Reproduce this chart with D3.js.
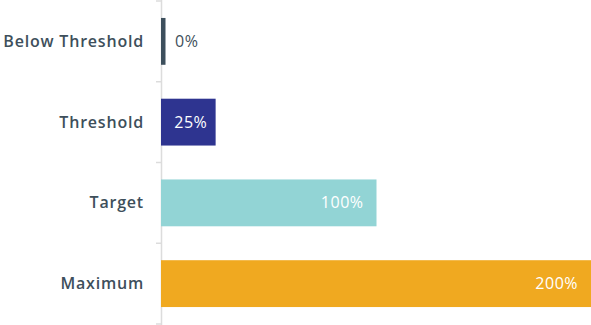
<!DOCTYPE html>
<html>
<head>
<meta charset="utf-8">
<script src="https://cdn.jsdelivr.net/npm/d3@7"></script>
<style>
  html, body { margin: 0; padding: 0; background: #fff; }
  svg { display: block; }
  .cat { font-family: "Open Sans", sans-serif; font-weight: 600; font-size: 16px; letter-spacing: 0.8px; fill: #3e4f5b; }
  .val { font-family: "Open Sans", sans-serif; font-weight: 500; font-size: 16px; letter-spacing: 0.5px; }
</style>
</head>
<body>
<script>
(function () {

    //chart data
    var categories = ["Below Threshold", "Threshold", "Target", "Maximum"];
    var values = [0, 25, 100, 200];
    var valueLabels = ["0%", "25%", "100%", "200%"];
    var colors = ["#3d4f5c", "#2e3490", "#92d4d5", "#f0a920"];

    var width = 591,
        height = 325;

    var svg = d3.select("body")
        .append("svg")
        .attr("width", width)
        .attr("height", height);

    var axisX = 162;

    var x = d3.scaleLinear()
        .domain([0, 200])
        .range([axisX, width]);

    var y = d3.scaleBand()
        .domain(categories)
        .range([1, 324])
        .paddingInner(0.42)
        .paddingOuter(0.21);

    //axis line
    svg.append("line")
        .attr("x1", axisX - 0.5).attr("x2", axisX - 0.5)
        .attr("y1", 0).attr("y2", height)
        .attr("stroke", "#dcdcdc")
        .attr("stroke-width", 1.5);

    //ticks at band boundaries
    var bounds = d3.range(categories.length + 1).map(function (i) {
        return y.range()[0] + i * y.step();
    });
    svg.selectAll(".tick")
        .data(bounds)
        .enter()
        .append("line")
        .attr("class", "tick")
        .attr("x1", axisX - 6).attr("x2", axisX)
        .attr("y1", function (d) { return d; })
        .attr("y2", function (d) { return d; })
        .attr("stroke", "#dcdcdc")
        .attr("stroke-width", 1.5);

    //bars
    svg.selectAll(".bar")
        .data(categories)
        .enter()
        .append("rect")
        .attr("class", "bar")
        .attr("x", x(0) - 1)
        .attr("y", function (d) { return y(d); })
        .attr("width", function (d, i) { return Math.max(x(values[i]) - x(0) + 1, 4.5); })
        .attr("height", y.bandwidth())
        .attr("fill", function (d, i) { return colors[i]; });

    //category labels
    svg.selectAll(".cat")
        .data(categories)
        .enter()
        .append("text")
        .attr("class", "cat")
        .attr("x", axisX - 18)
        .attr("y", function (d) { return y(d) + y.bandwidth() / 2; })
        .attr("dy", "0.35em")
        .attr("text-anchor", "end")
        .text(function (d) { return d; });

    //value labels
    svg.selectAll(".val")
        .data(categories)
        .enter()
        .append("text")
        .attr("class", "val")
        .attr("y", function (d) { return y(d) + y.bandwidth() / 2; })
        .attr("dy", "0.35em")
        .each(function (d, i) {
            var w = x(values[i]) - x(0);
            var t = d3.select(this).text(valueLabels[i]);
            if (w < 10) {
                t.attr("x", x(values[i]) + 13).attr("text-anchor", "start").attr("fill", "#3e4f5b");
            } else if (w < 80) {
                t.attr("x", x(0) + w / 2 + 2).attr("text-anchor", "middle").attr("fill", "#fff");
            } else {
                t.attr("x", x(values[i]) - 13).attr("text-anchor", "end").attr("fill", "#fff");
            }
        });

})();
</script>
</body>
</html>
